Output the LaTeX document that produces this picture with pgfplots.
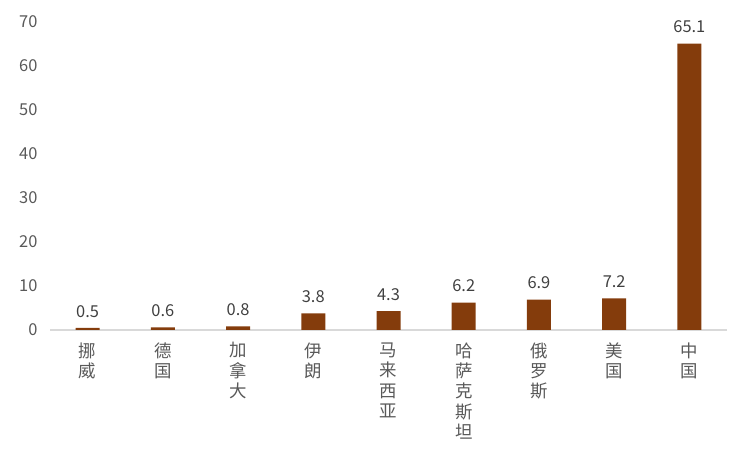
\documentclass[border=0pt]{standalone}
\usepackage{pgfplots}
\pgfplotsset{compat=1.18}
\usepackage{fontspec}
\setmainfont{Noto Sans CJK SC}
\newfontfamily\cjk{Noto Sans CJK SC}
\definecolor{barbrown}{HTML}{843C0C}
\definecolor{ticktext}{HTML}{595959}
\definecolor{labeltext}{HTML}{404040}
\definecolor{axisgray}{HTML}{D9D9D9}

\begin{document}
\begin{tikzpicture}[x=1bp,y=1bp]
\path[use as bounding box] (0,0) rectangle (750,450);
\begin{axis}[
  at={(50bp,120bp)}, anchor=south west,
  scale only axis, width=677bp, height=308bp,
  xmin=-0.5, xmax=8.5, ymin=0, ymax=70,
  ytick={0,10,...,70},
  xtick={0,...,8},
  xticklabels={挪\\威,德\\国,加\\拿\\大,伊\\朗,马\\来\\西\\亚,哈\\萨\\克\\斯\\坦,俄\\罗\\斯,美\\国,中\\国},
  xticklabel style={align=center, font=\cjk\fontsize{17.5}{20.5}\selectfont, color=ticktext, anchor=north, yshift=-9bp},
  yticklabel style={font=\fontsize{16.5}{19}\selectfont, color=ticktext, xshift=-9bp},
  /pgf/number format/assume math mode=true,
  major tick length=0pt,
  axis x line*=bottom,
  axis y line*=left,
  y axis line style={draw=none},
  x axis line style={draw=axisgray, line width=1.2bp},
  ybar, bar width=24bp,
  nodes near coords,
  nodes near coords style={/pgf/number format/fixed, /pgf/number format/precision=1, /pgf/number format/fixed zerofill},
  every node near coord/.append style={font=\fontsize{16.5}{19}\selectfont, color=labeltext, yshift=7bp},
]
\addplot[fill=barbrown, draw=none] coordinates {
  (0,0.5) (1,0.6) (2,0.8) (3,3.8) (4,4.3) (5,6.2) (6,6.9) (7,7.2) (8,65.1)
};
\end{axis}
\end{tikzpicture}
\end{document}
